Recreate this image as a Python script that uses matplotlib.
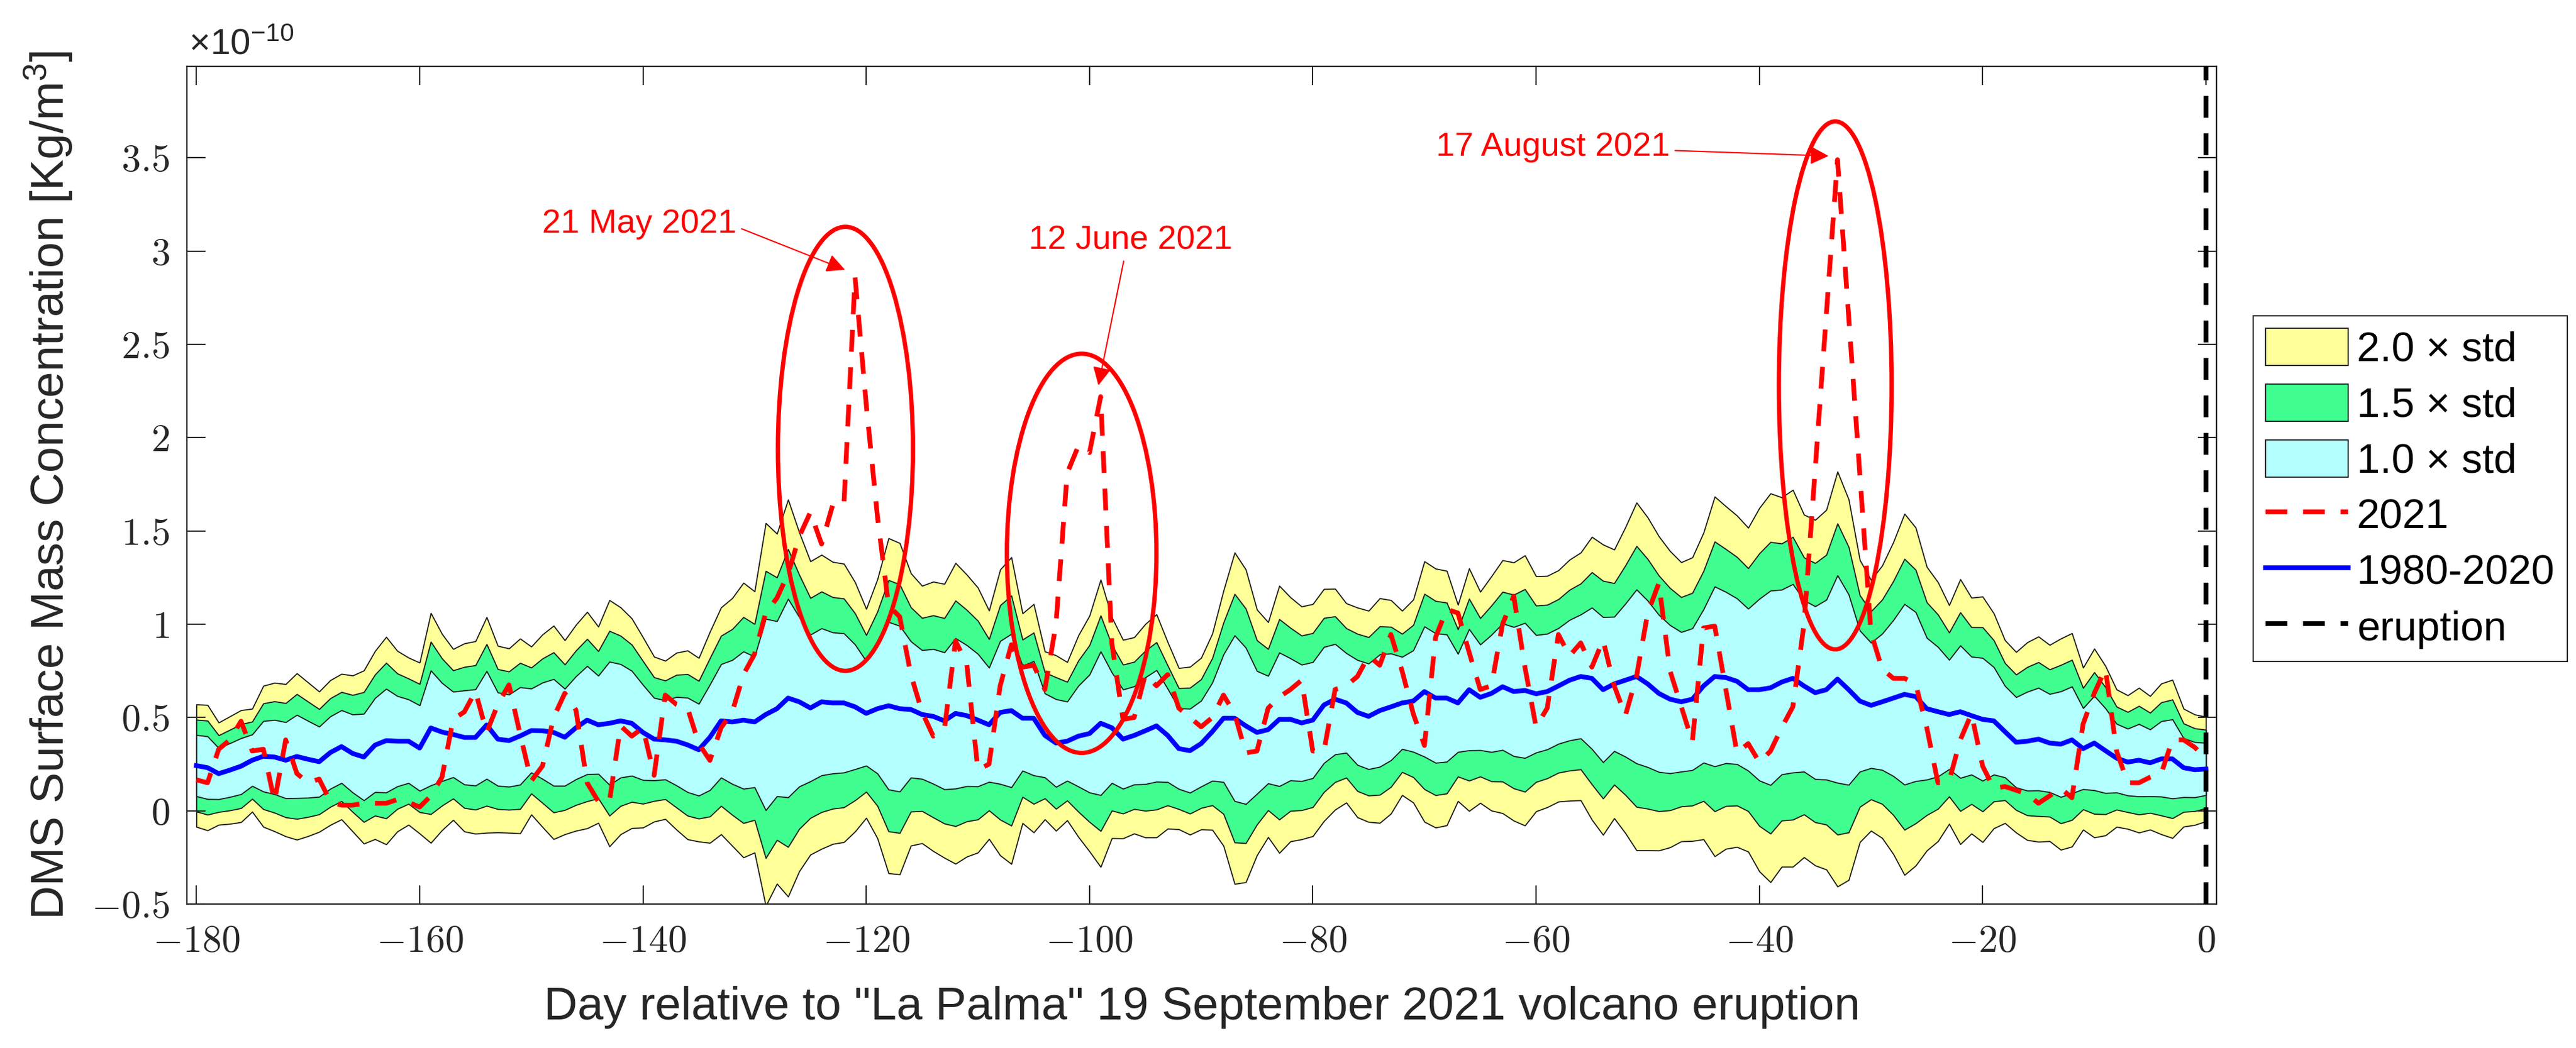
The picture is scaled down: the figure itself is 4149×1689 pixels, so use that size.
import matplotlib
matplotlib.use('Agg')
import numpy as np
import matplotlib.pyplot as plt
from matplotlib.patches import Ellipse
from matplotlib.ticker import FuncFormatter

plt.rcParams['font.family'] = ['Liberation Sans', 'DejaVu Sans']
plt.rcParams['mathtext.fontset'] = 'cm'

# values in units of 1e-10 kg/m^3, one per day from -180 to 0
days = list(range(-180, 1))

mean_1980_2020 = [
    # -180 .. -150
    0.242, 0.231, 0.199, 0.218, 0.239, 0.271, 0.292, 0.288, 0.271, 0.291,
    0.276, 0.263, 0.312, 0.344, 0.307, 0.288, 0.352, 0.376, 0.373, 0.373,
    0.336, 0.444, 0.422, 0.409, 0.393, 0.393, 0.460, 0.384, 0.376, 0.401,
    0.430,
    # -149 .. -120
    0.429, 0.420, 0.394, 0.445, 0.486, 0.461, 0.469, 0.482, 0.469, 0.420,
    0.384, 0.380, 0.373, 0.353, 0.327, 0.394, 0.482, 0.476, 0.486, 0.476,
    0.516, 0.547, 0.604, 0.584, 0.551, 0.584, 0.578, 0.578, 0.557, 0.522,
    # -119 .. -90
    0.547, 0.563, 0.547, 0.543, 0.516, 0.506, 0.482, 0.522, 0.510, 0.486,
    0.461, 0.527, 0.537, 0.496, 0.496, 0.404, 0.363, 0.373, 0.400, 0.414,
    0.469, 0.445, 0.384, 0.404, 0.429, 0.455, 0.404, 0.333, 0.322, 0.360,
    # -89 .. -60
    0.424, 0.496, 0.496, 0.455, 0.420, 0.435, 0.490, 0.490, 0.471, 0.486,
    0.567, 0.598, 0.578, 0.527, 0.506, 0.537, 0.557, 0.578, 0.588, 0.639,
    0.604, 0.604, 0.578, 0.649, 0.608, 0.629, 0.665, 0.639, 0.645, 0.627,
    # -59 .. -30
    0.639, 0.669, 0.700, 0.720, 0.710, 0.649, 0.680, 0.700, 0.720, 0.680,
    0.629, 0.598, 0.584, 0.598, 0.669, 0.720, 0.714, 0.694, 0.649, 0.649,
    0.659, 0.690, 0.710, 0.669, 0.633, 0.649, 0.706, 0.649, 0.588, 0.565,
    # -29 .. 0
    0.584, 0.604, 0.624, 0.612, 0.547, 0.531, 0.516, 0.531, 0.510, 0.490,
    0.482, 0.424, 0.367, 0.373, 0.384, 0.363, 0.357, 0.380, 0.333, 0.363,
    0.322, 0.282, 0.261, 0.271, 0.257, 0.278, 0.278, 0.231, 0.220, 0.224,
]

std_1980_2020 = [
    # -180 .. -150
    0.164, 0.168, 0.137, 0.144, 0.150, 0.138, 0.189, 0.199, 0.204, 0.223,
    0.206, 0.188, 0.194, 0.195, 0.209, 0.232, 0.252, 0.278, 0.242, 0.224,
    0.229, 0.308, 0.263, 0.229, 0.252, 0.258, 0.289, 0.250, 0.247, 0.261,
    0.225,
    # -149 .. -120
    0.258, 0.286, 0.260, 0.276, 0.290, 0.263, 0.330, 0.304, 0.281, 0.255,
    0.221, 0.212, 0.237, 0.253, 0.246, 0.283, 0.304, 0.332, 0.368, 0.350,
    0.513, 0.469, 0.532, 0.454, 0.393, 0.394, 0.378, 0.373, 0.334, 0.280,
    # -119 .. -90
    0.347, 0.449, 0.444, 0.365, 0.345, 0.361, 0.367, 0.403, 0.378, 0.355,
    0.306, 0.383, 0.411, 0.281, 0.306, 0.225, 0.235, 0.212, 0.270, 0.316,
    0.385, 0.296, 0.266, 0.263, 0.286, 0.299, 0.250, 0.216, 0.225, 0.230,
    # -89 .. -60
    0.263, 0.342, 0.444, 0.419, 0.329, 0.288, 0.358, 0.327, 0.312, 0.311,
    0.311, 0.296, 0.267, 0.281, 0.283, 0.301, 0.286, 0.247, 0.272, 0.349,
    0.347, 0.341, 0.263, 0.325, 0.283, 0.314, 0.339, 0.346, 0.362, 0.315,
    # -59 .. -30
    0.310, 0.310, 0.323, 0.332, 0.379, 0.389, 0.360, 0.410, 0.466, 0.446,
    0.421, 0.397, 0.374, 0.380, 0.411, 0.482, 0.459, 0.444, 0.434, 0.487,
    0.521, 0.495, 0.505, 0.459, 0.463, 0.482, 0.556, 0.510, 0.378, 0.336,
    # -29 .. 0
    0.365, 0.418, 0.484, 0.453, 0.380, 0.347, 0.293, 0.355, 0.316, 0.329,
    0.288, 0.245, 0.242, 0.265, 0.275, 0.263, 0.283, 0.286, 0.217, 0.253,
    0.227, 0.184, 0.179, 0.194, 0.179, 0.202, 0.212, 0.158, 0.148, 0.140,
]

dms_2021 = [
    # -180 .. -150
    0.166, 0.150, 0.330, 0.380, 0.480, 0.320, 0.330, 0.050, 0.380, 0.200,
    0.150, 0.170, 0.050, 0.030, 0.030, 0.040, 0.040, 0.040, 0.060, 0.045,
    0.020, 0.080, 0.180, 0.490, 0.530, 0.640, 0.420, 0.570, 0.675, 0.410,
    0.160,
    # -149 .. -120
    0.240, 0.500, 0.630, 0.540, 0.150, 0.050, 0.050, 0.455, 0.400, 0.445,
    0.190, 0.620, 0.570, 0.550, 0.360, 0.270, 0.445, 0.530, 0.730, 0.840,
    1.060, 1.140, 1.270, 1.470, 1.600, 1.430, 1.640, 1.640, 2.860, 2.180,
    # -119 .. -90
    1.580, 1.100, 1.040, 0.730, 0.530, 0.400, 0.435, 0.910, 0.790, 0.220,
    0.250, 0.670, 0.890, 0.770, 0.780, 0.650, 1.000, 1.810, 1.955, 1.920,
    2.220, 0.900, 0.490, 0.500, 0.730, 0.670, 0.730, 0.550, 0.500, 0.450,
    # -89 .. -60
    0.500, 0.620, 0.520, 0.310, 0.320, 0.550, 0.610, 0.650, 0.700, 0.320,
    0.320, 0.650, 0.670, 0.720, 0.830, 0.780, 0.945, 0.750, 0.520, 0.350,
    0.930, 1.080, 1.060, 0.850, 0.650, 0.670, 1.000, 1.150, 0.770, 0.450,
    # -59 .. -30
    0.550, 0.945, 0.830, 0.900, 0.770, 0.915, 0.670, 0.510, 0.720, 1.060,
    1.220, 0.750, 0.560, 0.370, 0.980, 0.990, 0.650, 0.310, 0.360, 0.260,
    0.320, 0.445, 0.557, 1.000, 1.830, 2.660, 3.490, 2.650, 1.800, 0.955,
    # -29 .. 0
    0.760, 0.710, 0.710, 0.680, 0.445, 0.150, 0.160, 0.380, 0.520, 0.240,
    0.120, 0.130, 0.110, 0.090, 0.040, 0.080, 0.120, 0.070, 0.465, 0.630,
    0.760, 0.320, 0.150, 0.150, 0.180, 0.200, 0.380, 0.380, 0.340, 0.280,
]

band_factors = [2.0, 1.5, 1.0]
band_colors = ['#FFFF99', '#40FF90', '#B3FFFF']
band_labels = ['2.0 × std', '1.5 × std', '1.0 × std']

# events: label, arrow tip, text position, ellipse centre/size
events = [
    ('21 May 2021', (-121.9, 2.90), (-131.6, 3.10), 'right', (-121.86, 1.94), 12.1, 2.38),
    ('12 June 2021', (-99.2, 2.28), (-96.3, 3.01), 'center', (-100.7, 1.38), 13.4, 2.14),
    ('17 August 2021', (-33.8, 3.51), (-48.0, 3.51), 'right', (-33.2, 2.28), 10.1, 2.83),
]

W, H = 4149, 1689
fig = plt.figure(figsize=(W / 100, H / 100), dpi=100)
ax = fig.add_axes([301 / W, 1 - 1457 / H, (3570 - 301) / W, (1457 - 107) / H])

mean = np.array(mean_1980_2020)
std = np.array(std_1980_2020)

band_handles = []
for k, col in zip(band_factors, band_colors):
    h = ax.fill_between(days, mean - k * std, mean + k * std, facecolor=col,
                        edgecolor='#1a1a1a', linewidth=1.3, zorder=1)
    band_handles.append(h)

dash = (0, (4.6, 3.3))
l_mean, = ax.plot(days, mean, color='#0000FF', lw=5.5, zorder=3)
l_2021, = ax.plot(days, dms_2021, color='#FF0000', lw=5.5, ls=dash,
                  dash_capstyle='butt', zorder=4)
l_erupt = ax.axvline(0, color='k', lw=5.5, ls=dash, dash_capstyle='butt', zorder=5)

for label, tip, txt, ha, c, w, h in events:
    ax.add_patch(Ellipse(c, w, h, facecolor='none', edgecolor='#FF0000', lw=5.0, zorder=6))
    relpos = (1.0, 0.4) if ha == 'right' else (0.47, 0.0)
    ax.annotate(label, xy=tip, xytext=txt, ha=ha, va='baseline', color='#FF0000',
                fontsize=39, zorder=7,
                arrowprops=dict(arrowstyle='-|>', color='#FF0000', lw=1.5,
                                mutation_scale=45, shrinkA=4, shrinkB=0, relpos=relpos))

ax.set_xlim(-180.85, 0.95)
ax.set_ylim(-0.5, 3.99)
ax.set_xticks(list(range(-180, 1, 20)))
ax.set_yticks([-0.5, 0, 0.5, 1, 1.5, 2, 2.5, 3, 3.5])
ax.xaxis.set_major_formatter(FuncFormatter(lambda v, p: '$%g$' % v))
ax.yaxis.set_major_formatter(FuncFormatter(lambda v, p: '$%g$' % v))

gray = '#262626'
ax.tick_params(direction='in', top=True, right=True, length=21.6, width=1.5,
               labelsize=44.7, colors=gray)
ax.tick_params(axis='x', pad=24)
ax.tick_params(axis='y', pad=20)
for s in ax.spines.values():
    s.set_linewidth(1.6)
    s.set_color(gray)

ax.set_xlabel('Day relative to "La Palma" 19 September 2021 volcano eruption',
              fontsize=54, color=gray)
ax.xaxis.set_label_coords(0.5, -(1589 - 1457) / 1350)
ax.set_ylabel(r'DMS Surface Mass Concentration [Kg/m$\mathregular{^3}$]',
              fontsize=54, color=gray)
ax.yaxis.set_label_coords(-(301 - 121) / 3269, 0.5)

fig.text(304 / W, 1 - 87 / H, r'$\mathregular{\times10^{-10}}$', fontsize=42,
         color=gray, ha='left', va='baseline')

leg = ax.legend(band_handles + [l_2021, l_mean, l_erupt],
                band_labels + ['2021', '1980-2020', 'eruption'],
                loc='upper left', bbox_to_anchor=(3629 / W, 1 - 509 / H),
                bbox_transform=fig.transFigure, fontsize=48, handlelength=2.0,
                handleheight=1.0, labelspacing=0.35, handletextpad=0.2,
                borderpad=0.3, borderaxespad=0, fancybox=False,
                edgecolor=gray, framealpha=1)
leg.get_frame().set_linewidth(1.5)

fig.savefig('out.png', dpi=100, facecolor='white')
